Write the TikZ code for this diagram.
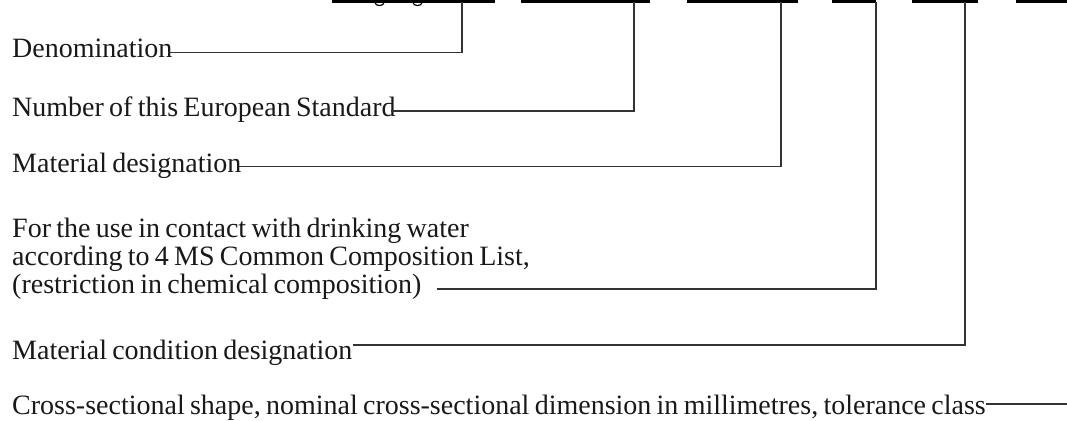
\documentclass[tikz,border=0pt]{standalone}
\usepackage{fontspec}
\setmainfont{Liberation Serif}[WordSpace={0.75,0.75,0.75}]
\usetikzlibrary{calc}
\begin{document}
\begin{tikzpicture}[x=1pt,y=-1pt,
  label/.style={anchor=base west,inner sep=0pt,font=\fontsize{28}{30}\selectfont,text=black!90},
  leader/.style={line width=1.3pt,draw=black!80},
  bar/.style={line width=3.2pt,draw=black}]
\useasboundingbox (0,0) rectangle (1067,420);

% underlined fields of the designation (the designation itself is cut off above)
\draw[bar] (332,1.5) -- (495,1.5);
\draw[bar] (521,1.5) -- (650,1.5);
\draw[bar] (687,1.5) -- (798,1.5);
\draw[bar] (832,1.5) -- (876,1.5);
\draw[bar] (912,1.5) -- (978,1.5);
\draw[bar] (1016,1.5) -- (1067,1.5);
% descender tails peeking below the first field
\draw[line width=1.2pt] (375,2.5) .. controls (375,6.5) and (384,6.5) .. (384,2.5);
\draw[line width=1.2pt] (413,2.5) .. controls (413,6.5) and (422,6.5) .. (422,2.5);

% top ends of the leaders
\coordinate (t1) at (462,2);
\coordinate (t2) at (634,2);
\coordinate (t3) at (781,2);
\coordinate (t4) at (876,2);
\coordinate (t5) at (965,2);
\coordinate (t6) at (1067,404);

% explanations
\node[label] (den) at (12,57) {Denomination};
\node[label] (num) at (12,116) {Number of this European Standard};
\node[label] (mat) at (12,172) {Material designation};
\node[label] (dw1) at (12,237) {For the use in contact with drinking water};
\node[label] (dw2) at (12,265) {according to 4 MS Common Composition List,};
\node[label] (dw3) at (12,293) {(restriction in chemical composition)};
\node[label] (cond) at (12,359) {Material condition designation};
\node[label] (cs) at (12,414) {Cross-sectional shape, nominal cross-sectional dimension in millimetres, tolerance class};

% leaders from each explanation up to its field
\draw[leader] ($(den.base east)+(-5,-4.5)$) -| (t1);
\draw[leader] ($(num.base east)+(-5,-5)$) -| (t2);
\draw[leader] ($(mat.base east)+(-3,-5.5)$) -| (t3);
\draw[leader] ($(dw3.base east)+(15,-4)$) -| (t4);
\draw[leader] ($(cond.base east)+(0,-14)$) -| (t5);
\draw[leader] ($(cs.base east)+(0,-10)$) -- (t6);
\end{tikzpicture}
\end{document}
